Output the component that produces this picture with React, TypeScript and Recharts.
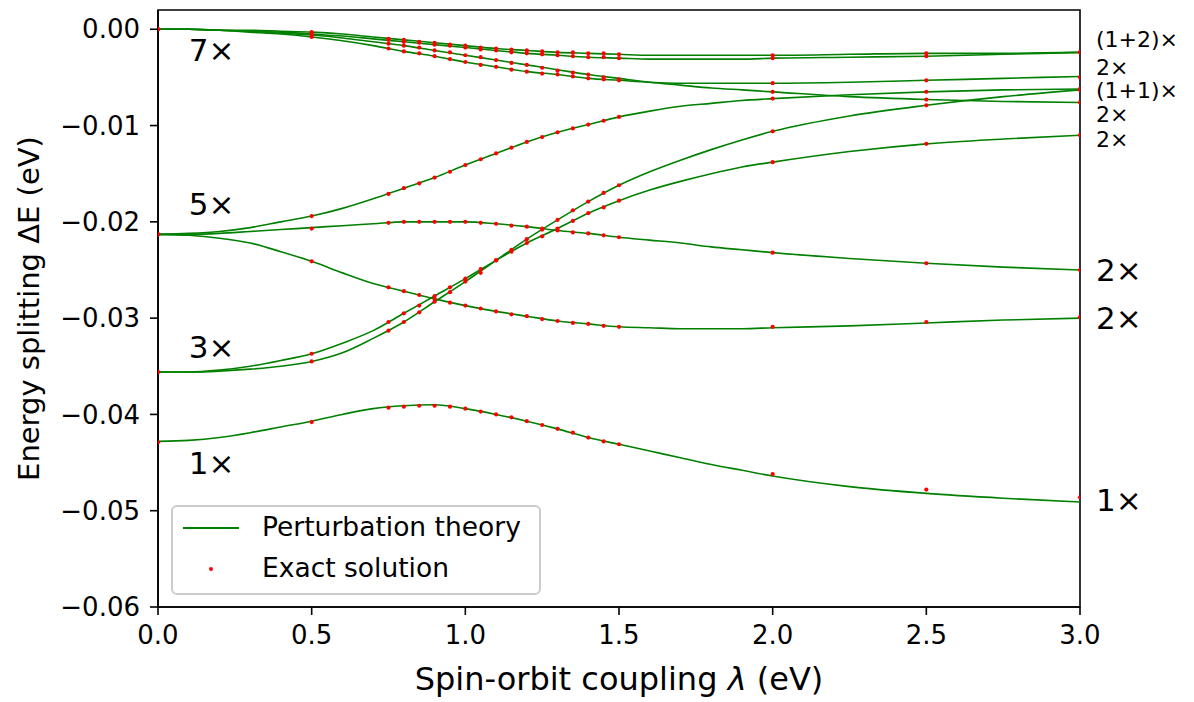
import React from "react";
import {
  ComposedChart,
  Line,
  Scatter,
  XAxis,
  YAxis,
  ReferenceArea,
  ReferenceDot,
} from "recharts";

// perturbation theory curves, sampled on LAM
const LAM = [
  0, 0.1, 0.2, 0.3, 0.4, 0.5, 0.6, 0.7, 0.8, 0.9, 1.0, 1.1, 1.2, 1.3, 1.4, 1.5,
  1.6, 1.7, 1.8, 1.9, 2.0, 2.25, 2.5, 2.75, 3.0,
];
const PT_1 = [0, 0, -0.0001, -0.0001, -0.0002, -0.0003, -0.0005, -0.0008, -0.0011, -0.0014, -0.0017, -0.002, -0.0022, -0.0024, -0.0025, -0.0026, -0.0027, -0.0027, -0.0027, -0.0027, -0.0027, -0.0026, -0.0025, -0.0025, -0.0024];
const PT_2 = [0, 0, -0.0001, -0.0002, -0.0003, -0.0005, -0.0007, -0.001, -0.0013, -0.0016, -0.0019, -0.0022, -0.0025, -0.0027, -0.0029, -0.003, -0.0031, -0.0031, -0.0031, -0.0031, -0.003, -0.0029, -0.0028, -0.0026, -0.0024];
const PT_3 = [0, 0, -0.0001, -0.0002, -0.0004, -0.0006, -0.0009, -0.0013, -0.0017, -0.0022, -0.0027, -0.0032, -0.0037, -0.0042, -0.0047, -0.0051, -0.0055, -0.0058, -0.0061, -0.0063, -0.0065, -0.007, -0.0073, -0.0075, -0.0076];
const PT_4 = [0, 0, -0.0001, -0.0003, -0.0005, -0.0008, -0.0012, -0.0017, -0.0023, -0.0028, -0.0034, -0.0039, -0.0044, -0.0047, -0.0051, -0.0053, -0.0055, -0.0056, -0.0056, -0.0056, -0.0056, -0.0055, -0.0053, -0.0051, -0.0049];
const PT_5 = [-0.0213, -0.0212, -0.021, -0.0206, -0.02, -0.0194, -0.0186, -0.0176, -0.0165, -0.0154, -0.0141, -0.0129, -0.0117, -0.0107, -0.0099, -0.0091, -0.0085, -0.008, -0.0077, -0.0074, -0.0072, -0.0068, -0.0065, -0.0063, -0.0062];
const PT_6 = [-0.0356, -0.0356, -0.0355, -0.0353, -0.035, -0.0345, -0.0336, -0.0321, -0.0304, -0.0283, -0.0262, -0.024, -0.0218, -0.0198, -0.0179, -0.0162, -0.0148, -0.0136, -0.0125, -0.0115, -0.0106, -0.009, -0.0079, -0.007, -0.0063];
const PT_7 = [-0.0356, -0.0356, -0.0354, -0.035, -0.0344, -0.0337, -0.0326, -0.0313, -0.0295, -0.0277, -0.0259, -0.024, -0.0222, -0.0207, -0.0191, -0.0178, -0.0167, -0.0158, -0.015, -0.0143, -0.0138, -0.0127, -0.0119, -0.0114, -0.011];
const PT_8 = [-0.0213, -0.0213, -0.0212, -0.021, -0.0208, -0.0206, -0.0204, -0.0202, -0.02, -0.02, -0.02, -0.0202, -0.0205, -0.0209, -0.0212, -0.0216, -0.0219, -0.0222, -0.0226, -0.0229, -0.0232, -0.0238, -0.0243, -0.0247, -0.025];
const PT_9 = [-0.0213, -0.0214, -0.0217, -0.0222, -0.0231, -0.0241, -0.0253, -0.0264, -0.0272, -0.028, -0.0287, -0.0293, -0.0298, -0.0303, -0.0306, -0.0309, -0.031, -0.0311, -0.0311, -0.0311, -0.031, -0.0308, -0.0305, -0.0302, -0.03];
const PT_10 = [-0.0428, -0.0427, -0.0424, -0.0419, -0.0413, -0.0407, -0.04, -0.0394, -0.0391, -0.039, -0.0394, -0.04, -0.0407, -0.0415, -0.0424, -0.0431, -0.0438, -0.0445, -0.0452, -0.0458, -0.0464, -0.0475, -0.0482, -0.0487, -0.0491];

// exact solution points
const EX_LAM = [0, 0.5, 0.75, 0.8, 0.85, 0.9, 0.95, 1.0, 1.05, 1.1, 1.15, 1.2, 1.25, 1.3, 1.35, 1.4, 1.45, 1.5, 2.0, 2.5, 3.0];
const EX_1 = [0, -0.0003, -0.001, -0.0011, -0.0013, -0.0014, -0.0016, -0.0017, -0.0019, -0.002, -0.0021, -0.0022, -0.0023, -0.0024, -0.0024, -0.0025, -0.0025, -0.0026, -0.0027, -0.0025, -0.0024];
const EX_2 = [0, -0.0005, -0.0011, -0.0013, -0.0014, -0.0016, -0.0017, -0.0019, -0.0021, -0.0022, -0.0024, -0.0025, -0.0026, -0.0027, -0.0028, -0.0029, -0.0029, -0.003, -0.003, -0.0028, -0.0024];
const EX_3 = [0, -0.0006, -0.0015, -0.0017, -0.0019, -0.0022, -0.0024, -0.0027, -0.0029, -0.0032, -0.0035, -0.0037, -0.004, -0.0043, -0.0045, -0.0047, -0.005, -0.0052, -0.0065, -0.0073, -0.0076];
const EX_4 = [0, -0.0008, -0.002, -0.0023, -0.0025, -0.0028, -0.0031, -0.0034, -0.0037, -0.0039, -0.0042, -0.0044, -0.0046, -0.0047, -0.0049, -0.0051, -0.0052, -0.0053, -0.0056, -0.0053, -0.005];
const EX_5 = [-0.0213, -0.0194, -0.0171, -0.0165, -0.016, -0.0154, -0.0148, -0.0141, -0.0135, -0.0129, -0.0123, -0.0117, -0.0112, -0.0107, -0.0103, -0.0099, -0.0095, -0.0091, -0.0072, -0.0065, -0.0062];
const EX_6 = [-0.0356, -0.0345, -0.0313, -0.0304, -0.0294, -0.0283, -0.0273, -0.0262, -0.0253, -0.024, -0.0229, -0.0218, -0.0208, -0.0198, -0.0188, -0.0179, -0.017, -0.0162, -0.0106, -0.0079, -0.0063];
const EX_7 = [-0.0356, -0.0337, -0.0304, -0.0295, -0.0287, -0.0277, -0.0268, -0.0259, -0.0249, -0.024, -0.0231, -0.0222, -0.0215, -0.0207, -0.0199, -0.0191, -0.0185, -0.0178, -0.0138, -0.0119, -0.011];
const EX_8 = [-0.0213, -0.0207, -0.0201, -0.02, -0.02, -0.02, -0.02, -0.02, -0.0201, -0.0202, -0.0204, -0.0205, -0.0207, -0.0209, -0.0211, -0.0212, -0.0214, -0.0216, -0.0232, -0.0243, -0.025];
const EX_9 = [-0.0213, -0.0241, -0.0268, -0.0272, -0.0276, -0.028, -0.0284, -0.0287, -0.029, -0.0293, -0.0296, -0.0298, -0.0301, -0.0303, -0.0305, -0.0306, -0.0308, -0.0309, -0.0309, -0.0304, -0.0299];
const EX_10 = [-0.0429, -0.0408, -0.0393, -0.0392, -0.0391, -0.0391, -0.0392, -0.0394, -0.0397, -0.04, -0.0403, -0.0407, -0.0411, -0.0415, -0.0419, -0.0424, -0.0428, -0.0431, -0.0462, -0.0478, -0.0486];

const X_TICKS = [0, 0.5, 1, 1.5, 2, 2.5, 3];
const Y_TICKS = [0, -0.01, -0.02, -0.03, -0.04, -0.05, -0.06];

// degeneracy annotations
const LEFT_LABELS = ["7×", "5×", "3×", "1×"];
const LEFT_Y = [-0.0022, -0.0181, -0.033, -0.045];
const RIGHT_SMALL = ["(1+2)×", "2×", "(1+1)×", "2×", "2×"];
const RIGHT_SMALL_Y = [-0.0011, -0.004, -0.0064, -0.0089, -0.0115];
const RIGHT_BIG = ["2×", "2×", "1×"];
const RIGHT_BIG_Y = [-0.025, -0.03, -0.0489];

const PT = [PT_1, PT_2, PT_3, PT_4, PT_5, PT_6, PT_7, PT_8, PT_9, PT_10];
const EX = [EX_1, EX_2, EX_3, EX_4, EX_5, EX_6, EX_7, EX_8, EX_9, EX_10];

const FONT = "'DejaVu Sans', sans-serif";
const GREEN = "#008000";
const RED = "#ff0000";

const lineRows = LAM.map((x, i) => {
  const row: Record<string, number> = { x };
  PT.forEach((arr, k) => (row["p" + (k + 1)] = arr[i]));
  return row;
});
const exactPts = EX.flatMap((arr) => arr.map((y, i) => ({ x: EX_LAM[i], y })));

const fmtY = (v: number) => (v === 0 ? "0.00" : "\u2212" + Math.abs(v).toFixed(2));

const annoLabel = (text: string, size: number, dx: number) => (props: any) => {
  const vb = props.viewBox || {};
  return (
    <text
      x={vb.x + dx}
      y={vb.y}
      dominantBaseline="central"
      fontSize={size}
      fontFamily={FONT}
      fill="#000"
    >
      {text}
    </text>
  );
};

const XLabel = (props: any) => {
  const vb = props.viewBox || {};
  return (
    <text x={vb.x + vb.width / 2} y={vb.y + 72} textAnchor="middle" dominantBaseline="central" fontSize={32} fontFamily={FONT} fill="#000">
      Spin-orbit coupling <tspan fontStyle="italic">λ</tspan> (eV)
    </text>
  );
};

const YLabel = (props: any) => {
  const vb = props.viewBox || {};
  const cx = 29;
  const cy = vb.y + vb.height / 2;
  return (
    <text x={cx} y={cy} transform={`rotate(-90 ${cx} ${cy})`} textAnchor="middle" dominantBaseline="central" fontSize={29} fontFamily={FONT} fill="#000">
      Energy splitting ΔE (eV)
    </text>
  );
};

const Dot = (props: any) => <circle cx={props.cx} cy={props.cy} r={2.1} fill={RED} />;

export default function App() {
  const tickStyle = { fontSize: 26, fontFamily: FONT, fill: "#000" };
  return (
    <div style={{ position: "absolute", left: 0, top: 0, width: 1194, height: 702, background: "#fff" }}>
      <ComposedChart width={1194} height={702} data={lineRows} margin={{ top: 10, right: 114, bottom: 0, left: 0 }}>
        <XAxis
          type="number"
          dataKey="x"
          domain={[0, 3]}
          ticks={X_TICKS}
          allowDataOverflow
          height={95}
          tickFormatter={(v: number) => v.toFixed(1)}
          tick={tickStyle}
          tickSize={8}
          tickMargin={11}
          stroke="#000"
          axisLine={{ stroke: "#000", strokeWidth: 1.6 }}
          tickLine={{ stroke: "#000", strokeWidth: 1.6 }}
          label={XLabel}
        />
        <YAxis
          type="number"
          domain={[-0.06, 0.002]}
          ticks={Y_TICKS}
          allowDataOverflow
          width={158}
          tickFormatter={fmtY}
          tick={tickStyle}
          tickSize={8}
          tickMargin={10}
          stroke="#000"
          axisLine={{ stroke: "#000", strokeWidth: 1.6 }}
          tickLine={{ stroke: "#000", strokeWidth: 1.6 }}
          label={YLabel}
        />
        {PT.map((_, k) => (
          <Line
            key={"p" + k}
            type="monotone"
            dataKey={"p" + (k + 1)}
            stroke={GREEN}
            strokeWidth={1.6}
            dot={false}
            activeDot={false}
            isAnimationActive={false}
          />
        ))}
        <Scatter data={exactPts} dataKey="y" fill={RED} shape={Dot} isAnimationActive={false} />
        <ReferenceArea x1={0} x2={3} y1={-0.06} y2={0.002} stroke="#000" strokeWidth={1.6} fill="none" fillOpacity={0} ifOverflow="visible" />
        {LEFT_LABELS.map((t, i) => (
          <ReferenceDot key={"l" + i} x={0.1} y={LEFT_Y[i]} r={0} stroke="none" fill="none" ifOverflow="visible" label={annoLabel(t, 31, 0)} />
        ))}
        {RIGHT_SMALL.map((t, i) => (
          <ReferenceDot key={"rs" + i} x={3} y={RIGHT_SMALL_Y[i]} r={0} stroke="none" fill="none" ifOverflow="visible" label={annoLabel(t, 22, 16)} />
        ))}
        {RIGHT_BIG.map((t, i) => (
          <ReferenceDot key={"rb" + i} x={3} y={RIGHT_BIG_Y[i]} r={0} stroke="none" fill="none" ifOverflow="visible" label={annoLabel(t, 31, 16)} />
        ))}
      </ComposedChart>
      <div
        style={{
          position: "absolute",
          left: 171,
          top: 505,
          width: 366,
          height: 86,
          border: "2px solid #cccccc",
          borderRadius: 6,
          background: "rgba(255,255,255,0.8)",
          fontFamily: FONT,
          fontSize: 26.5,
          color: "#000",
        }}
      >
        <div style={{ position: "absolute", left: 10, top: 20, width: 56, height: 2, background: GREEN }} />
        <div style={{ position: "absolute", left: 89, top: 4, whiteSpace: "nowrap" }}>Perturbation theory</div>
        <div style={{ position: "absolute", left: 36, top: 60, width: 4, height: 4, borderRadius: 2, background: RED }} />
        <div style={{ position: "absolute", left: 89, top: 45, whiteSpace: "nowrap" }}>Exact solution</div>
      </div>
    </div>
  );
}
